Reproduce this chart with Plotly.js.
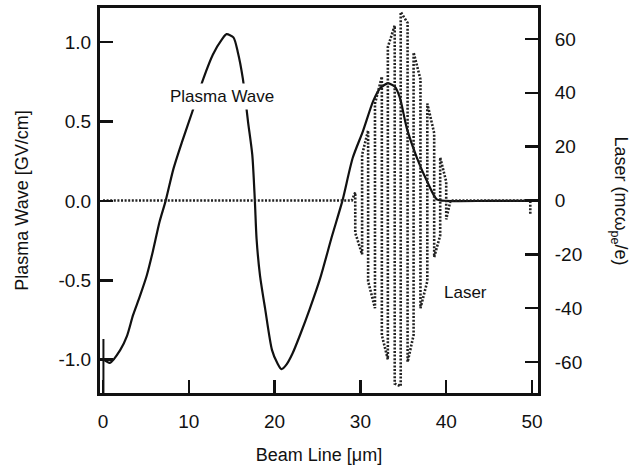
<!DOCTYPE html>
<html>
<head>
<meta charset="utf-8">
<script src="https://cdn.plot.ly/plotly-3.0.1.min.js"></script>
<style>html,body{margin:0;padding:0;background:#fff;}#chart{width:639px;height:465px;}</style>
</head>
<body>
<div id="chart"></div>
<script>
// Plasma wave (left axis, GV/cm)
const plasmaX = [0.1, 0.8, 2.0, 2.8, 3.5, 4.3, 5.1, 5.8, 6.6, 7.3, 8.2, 9.2, 10.4, 11.7, 12.8, 13.9, 14.4, 15.2, 15.7, 16.3, 16.9, 17.4, 17.7, 17.9, 18.3, 18.9, 19.7, 20.3, 20.8, 21.4, 22.1, 23.0, 24.1, 25.3, 26.7, 27.9, 29.1, 30.3, 31.5, 32.3, 33.2, 34.0, 34.6, 35.4, 36.6, 37.8, 38.9, 40.1, 45.0, 50.0];
const plasmaY = [-1.0, -1.02, -0.94, -0.85, -0.72, -0.60, -0.47, -0.32, -0.13, 0.0, 0.20, 0.37, 0.56, 0.77, 0.92, 1.02, 1.05, 1.03, 0.94, 0.77, 0.50, 0.29, 0.0, -0.24, -0.47, -0.68, -0.94, -1.02, -1.06, -1.03, -0.96, -0.84, -0.68, -0.49, -0.22, 0.0, 0.27, 0.44, 0.63, 0.71, 0.74, 0.72, 0.65, 0.46, 0.27, 0.12, 0.01, 0.0, 0.0, 0.0];
// vertical mark at the start of the beam line
const startMarkX = [0.05, 0.05];
const startMarkY = [-0.87, -1.3];

// Laser (right axis, mc ω_pe / e): oscillation column positions and their extremes
const laserColX = [29.4, 30.2, 30.9, 31.7, 32.5, 33.2, 34.0, 34.7, 35.5, 36.2, 37.0, 37.8, 38.6, 39.3, 40.0];
const laserTop  = [3, 17, 26, 36, 46, 57, 65, 70, 66, 55, 45, 36, 25, 16, 7];
const laserBot  = [-12, -20, -30, -40, -50, -59, -68, -69, -60, -50, -40, -30, -21, -13, -7];
const laserLeadX = [0, 29.0];
const laserLeadY = [0, 0];
const laserTailX = [40.5, 49.8, 49.8];
const laserTailY = [0, 0, -5];

const xTicks = [0, 10, 20, 30, 40, 50];
const yTickVals = [-1, -0.5, 0, 0.5, 1];
const yTickText = ['-1.0', '-0.5', '0.0', '0.5', '1.0'];
const y2TickVals = [-60, -40, -20, 0, 20, 40, 60];
const y2TickText = ['-60', '-40', '-20', '0', '20', '40', '60'];

// build laser zig-zag from the read columns
const lx = laserLeadX.slice(), ly = laserLeadY.slice();
laserColX.forEach((x, i) => {
  if (i % 2 === 0) { lx.push(x, x); ly.push(laserTop[i], laserBot[i]); }
  else { lx.push(x, x); ly.push(laserBot[i], laserTop[i]); }
});
laserTailX.forEach((x, i) => { lx.push(x); ly.push(laserTailY[i]); });

const font = {family: 'Liberation Sans, Arial, sans-serif', size: 18, color: '#111'};
const tickFont = {family: 'Liberation Sans, Arial, sans-serif', size: 19, color: '#111'};

const traces = [
  {x: lx, y: ly, yaxis: 'y2', mode: 'lines', line: {color: '#222', width: 2.6, dash: '2px,1.6px'}, hoverinfo: 'skip', showlegend: false},
  {x: startMarkX, y: startMarkY, mode: 'lines', line: {color: '#111', width: 2}, hoverinfo: 'skip', showlegend: false},
  {x: plasmaX, y: plasmaY, mode: 'lines', line: {color: '#111', width: 2.2, shape: 'spline', smoothing: 0.7}, hoverinfo: 'skip', showlegend: false}
];

const layout = {
  width: 639, height: 465,
  margin: {l: 100, r: 101, t: 8, b: 72},
  paper_bgcolor: '#fff', plot_bgcolor: '#fff',
  font: font,
  showlegend: false,
  xaxis: {
    range: [-0.35, 50.7], tickvals: xTicks, ticks: 'inside', ticklen: 13, tickwidth: 2.5, tickcolor: '#111',
    showline: true, linewidth: 3, linecolor: '#111', mirror: true, showgrid: false, zeroline: false,
    ticklabelstandoff: 9, tickfont: tickFont,
    title: {text: 'Beam Line [μm]', font: font, standoff: 22}
  },
  yaxis: {
    range: [-1.21, 1.215], tickvals: yTickVals, ticktext: yTickText, ticks: 'inside', ticklen: 13, tickwidth: 2.5, tickcolor: '#111',
    showline: true, linewidth: 3, linecolor: '#111', showgrid: false, zeroline: false,
    ticklabelstandoff: 2, tickfont: tickFont,
    title: {text: 'Plasma Wave [GV/cm]', font: font, standoff: 26}
  },
  yaxis2: {
    overlaying: 'y', side: 'right',
    range: [-71.5, 71.5], tickvals: y2TickVals, ticktext: y2TickText, ticks: 'inside', ticklen: 13, tickwidth: 2.5, tickcolor: '#111',
    showline: true, linewidth: 3, linecolor: '#111', showgrid: false, zeroline: false,
    ticklabelstandoff: 10, tickfont: tickFont
  },
  annotations: [
    {x: 13.9, y: 0.66, xref: 'x', yref: 'y', text: 'Plasma Wave', showarrow: false, font: {family: font.family, size: 17, color: '#111'}, bgcolor: '#fff', borderpad: 3},
    {x: 42.3, y: -34, xref: 'x', yref: 'y2', text: 'Laser', showarrow: false, font: {family: font.family, size: 17, color: '#111'}},
    {x: 1.185, y: 0.5, xref: 'paper', yref: 'paper', text: 'Laser (mcω<sub>pe</sub>/e)', textangle: 90, showarrow: false, xanchor: 'center', yanchor: 'middle', font: font}
  ]
};

Plotly.newPlot('chart', traces, layout, {staticPlot: true, displayModeBar: false});
</script>
</body>
</html>
